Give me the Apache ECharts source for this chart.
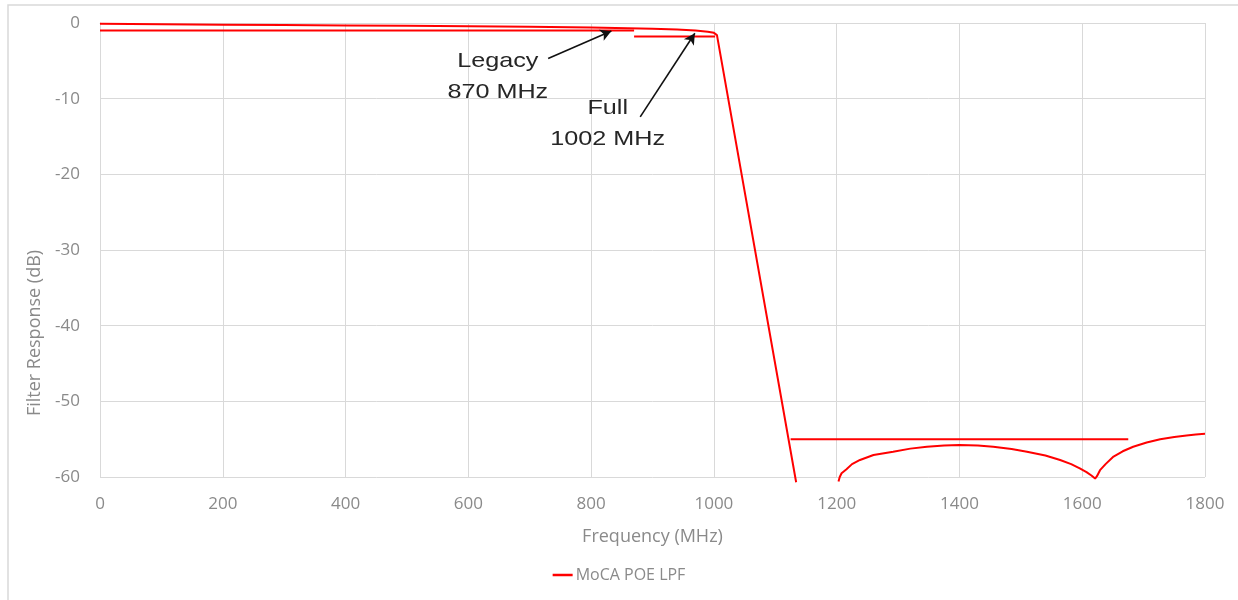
<!DOCTYPE html>
<html>
<head>
<meta charset="utf-8">
<script src="https://cdn.jsdelivr.net/npm/echarts@6/dist/echarts.min.js"></script>
<style>
html,body{margin:0;padding:0;background:#fff;}
#chart{width:1238px;height:600px;}
</style>
</head>
<body>
<div id="chart"></div>
<script>
// Filter response (MHz, dB); null = gap in the trace
const respFreq = [0, 100, 200, 300, 400, 500, 600, 700, 800, 860, 900, 940, 970, 990, 1000, 1005, 1134, null,
  1203, 1205, 1208, 1216, 1225, 1238, 1260, 1292, 1320, 1347, 1375, 1400, 1430, 1455, 1485, 1510, 1540, 1564,
  1582, 1596, 1607, 1615, 1621, 1624, 1629, 1638, 1651, 1666, 1683, 1705, 1727, 1750, 1770, 1785, 1800];
const respDb = [-0.1, -0.17, -0.22, -0.28, -0.33, -0.37, -0.42, -0.5, -0.6, -0.68, -0.76, -0.87, -1.0, -1.15, -1.3, -1.6, -60.7, null,
  -60.6, -60.0, -59.5, -58.97, -58.3, -57.75, -57.1, -56.65, -56.25, -56.0, -55.85, -55.77, -55.85, -56.0, -56.3, -56.65, -57.15, -57.75,
  -58.3, -58.85, -59.35, -59.8, -60.2, -59.9, -59.1, -58.3, -57.3, -56.6, -56.0, -55.45, -55.0, -54.7, -54.5, -54.38, -54.3];

// Spec mask segments
const maskFreq = [0, 870, null, 870, 1002, null, 1125, 1675];
const maskDb = [-1.0, -1.0, null, -1.8, -1.8, null, -55, -55];

// Annotations
const annotLabels = ['Legacy\n870 MHz', 'Full\n1002 MHz'];
const annotText = [[648, -7.1], [827, -13.35]];
const annotTail = [[730, -4.7], [880, -12.4]];
const annotHead = [[833, -1.05], [969, -1.35]];

const xTicks = {min: 0, max: 1800, interval: 200};
const yTicks = {min: -60, max: 0, interval: 10};
const seriesName = 'MoCA POE LPF';
const xTitle = 'Frequency (MHz)';
const yTitle = 'Filter Response (dB)';

function pairs(xs, ys) {
  return xs.map((x, i) => (x === null ? [null, null] : [x, ys[i]]));
}

const red = '#ff0000';
const axisFont = '"Open Sans", Lato, sans-serif';
const grey = '#8a8a8a';

const border = {
  id: 'border', type: 'rect', shape: {x: 8, y: 5, width: 1300, height: 700},
  style: {fill: 'none', stroke: '#d9d9d9', lineWidth: 1.5}, silent: true, z: -10
};

const chart = echarts.init(document.getElementById('chart'), null, {renderer: 'canvas'});
chart.setOption({
  animation: false,
  backgroundColor: '#fff',
  graphic: [border],
  grid: {left: 100, right: 33, top: 23, bottom: 123, containLabel: false},
  legend: {
    data: [seriesName], bottom: 12, left: 'center',
    icon: 'rect', itemWidth: 20, itemHeight: 2.5, itemGap: 10,
    textStyle: {color: grey, fontSize: 16, fontFamily: axisFont, padding: [0, 0, 0, -2]}
  },
  xAxis: {
    type: 'value', min: xTicks.min, max: xTicks.max, interval: xTicks.interval,
    name: xTitle, nameLocation: 'middle', nameGap: 51,
    nameTextStyle: {color: grey, fontSize: 18, fontFamily: axisFont},
    axisLine: {show: true, lineStyle: {color: '#d9d9d9', width: 1}},
    axisTick: {show: false},
    axisLabel: {color: grey, fontSize: 17, fontFamily: axisFont, margin: 19, formatter: v => String(v)},
    splitLine: {show: true, lineStyle: {color: '#d9d9d9', width: 1}}
  },
  yAxis: {
    type: 'value', min: yTicks.min, max: yTicks.max, interval: yTicks.interval,
    name: yTitle, nameLocation: 'middle', nameGap: 41, nameRotate: 90,
    nameTextStyle: {color: grey, fontSize: 18, fontFamily: axisFont, padding: [0, 166, 0, 0]},
    axisLine: {show: true, lineStyle: {color: '#d9d9d9', width: 1}},
    axisTick: {show: false},
    axisLabel: {color: grey, fontSize: 17, fontFamily: axisFont, margin: 20, formatter: v => String(v)},
    splitLine: {show: true, lineStyle: {color: '#d9d9d9', width: 1}}
  },
  series: [
    {
      name: seriesName, type: 'line', data: pairs(respFreq, respDb),
      showSymbol: false, symbol: 'none', connectNulls: false, clip: false,
      lineStyle: {color: red, width: 2}, itemStyle: {color: red}, z: 3
    },
    {
      name: 'mask', type: 'line', data: pairs(maskFreq, maskDb),
      showSymbol: false, symbol: 'none', connectNulls: false, clip: false,
      lineStyle: {color: red, width: 2}, itemStyle: {color: red}, z: 3,
      markLine: {
        silent: true, symbol: ['none', 'arrow'], symbolSize: [9, 11],
        lineStyle: {color: '#111', width: 1.6, type: 'solid'},
        label: {show: false},
        data: annotTail.map((t, i) => [{coord: t}, {coord: annotHead[i]}])
      }
    }
  ]
});

// Annotation texts placed at data coordinates (horizontally widened like the source)
const texts = annotText.map((c, i) => {
  const p = chart.convertToPixel({gridIndex: 0}, c);
  return {
    id: 'annot' + i, type: 'text', x: p[0], y: p[1], scaleX: 1.2, scaleY: 1, silent: true, z: 10,
    style: {
      text: annotLabels[i], fill: '#262626', font: '21px "Liberation Sans", Arial, sans-serif',
      lineHeight: 31, align: 'center', verticalAlign: 'middle'
    }
  };
});
chart.setOption({graphic: [border].concat(texts)});
</script>
</body>
</html>
